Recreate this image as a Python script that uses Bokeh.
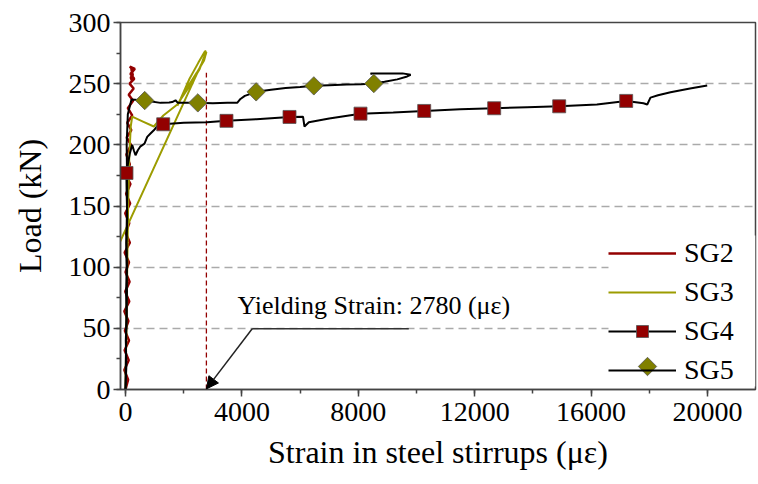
from bokeh.plotting import figure
from bokeh.models import Range1d, Legend, LegendItem, Arrow, NormalHead, FixedTicker, ColumnDataSource
from bokeh.core.properties import value
from bokeh.embed import file_html
from bokeh.resources import INLINE

# ---------------- data ----------------
sg2_x = [0, 90, -40, 110, -30, 120, -20, 100, -40, 130, -10, 140, 0, 120, -30, 150, 10, 130,
         -10, 160, 20, 170, 0, 150, 30, 190, 40, 200, 60, 230, 80, 260, 110, 280, 140, 300,
         170, 320, 150, 290, 200, 250, 180, 230]
sg2_y = [0, 8, 16, 24, 32, 40, 48, 56, 64, 72, 80, 88, 96, 104, 112, 120, 128, 136,
         144, 152, 160, 168, 176, 184, 192, 200, 206, 212, 218, 224, 230, 236, 241, 246, 250,
         254, 258, 262, 264, 260, 262, 257, 255, 252]

sg3_x = [0, 30, 60, 90, 130, 180, 230, 600, 973, 1300, 1780, 2200, 2550, 2700, 2760, 2720,
         2500, 2200, 1900, 1780, 2100, 2450, 2700, 2780, 2760, -200]
sg3_y = [0, 50, 100, 150, 190, 215, 223, 219, 215, 224, 233, 248, 262, 272, 277, 276,
         267, 254, 238, 232, 246, 259, 269, 276, 274, 120]

sg4_x = [0, 30, 10, 40, 20, 50, 30, 60, 40, 30, 148, 230, 285, 344, 423, 515, 653, 746, 859,
         973, 1089, 1296, 2000, 2800, 3470, 4500, 5636, 6100, 6150, 6300, 7000, 8076, 9200,
         10265, 11500, 12670, 13800, 14904, 16200, 17206, 17800, 17930, 18040, 18300, 18730,
         19400, 19990]
sg4_y = [0, 20, 40, 60, 80, 100, 120, 140, 160, 177, 193, 200, 195.6, 191.5, 195.6, 198.8,
         201, 206.5, 209.2, 211.9, 215.2, 216.8, 218, 218.5, 219.6, 221, 222.8, 223, 215,
         218.5, 221.5, 225.5, 226.5, 227.7, 229, 229.9, 230.8, 231.5, 233, 235.9, 234, 233,
         238.6, 240.5, 243, 246, 248.5]
sg4_mx = [34, 1296, 3470, 5636, 8076, 10265, 12670, 14904, 17206]
sg4_my = [177, 216.8, 219.6, 222.8, 225.5, 227.7, 229.9, 231.5, 235.9]

sg5_x = [0, 20, 50, 30, 60, 40, 80, 206, 660, 1203, 1500, 1604, 1718, 1800, 2485, 3000, 3500,
         3838, 3950, 4100, 4490, 5000, 5500, 6000, 6472, 7000, 7600, 8100, 8533, 8900, 9340,
         9680, 9800, 9520, 8420, 8470]
sg5_y = [0, 40, 80, 120, 160, 200, 225, 237, 236.2, 234.3, 234.6, 235, 236.4, 234.3, 234.3,
         234, 234.5, 234.3, 237.5, 240, 243.3, 245, 246.5, 247.3, 248.2, 248.8, 249.3, 249.6,
         250.1, 251.6, 253.5, 255.9, 257.2, 258.4, 258.4, 257.8]
sg5_mx = [660, 2485, 4490, 6472, 8533]
sg5_my = [236.2, 234.3, 243.3, 248.2, 250.1]

yield_strain = 2780
yield_top = 259
note_text = "Yielding Strain: 2780 (με)"
note_x, note_y = 3849, 69
leader_x = [9735, 4354]
leader_y = [49.6, 49.6]

x_ticks = [0, 4000, 8000, 12000, 16000, 20000]
x_minor = list(range(0, 22001, 2000))
y_ticks = [0, 50, 100, 150, 200, 250, 300]
y_minor = list(range(0, 301, 25))
grid_ticks = [50, 100, 150, 200, 250]

FONT = "Liberation Serif"
RED = "#930000"
OLIVE_LINE = "#9c9c00"
OLIVE_MARK = "#808000"

X0, X1, Y0, Y1 = -172, 21650, 0, 300
W, H = 758, 484
BL, BR, BT, BB = 120, 3, 22, 95

p = figure(width=W, height=H, x_range=Range1d(X0, X1), y_range=Range1d(Y0, Y1),
           output_backend="svg", toolbar_location=None,
           min_border_left=BL, min_border_right=BR, min_border_top=BT, min_border_bottom=BB)
p.background_fill_color = "white"
p.border_fill_color = "white"
p.outline_line_color = "#444444"
p.outline_line_width = 1.5

p.xgrid.visible = False
p.ygrid.ticker = FixedTicker(ticks=grid_ticks)
p.ygrid.grid_line_color = "#aaaaaa"
p.ygrid.grid_line_dash = "8 5"
p.ygrid.grid_line_width = 1.5

p.xaxis.ticker = FixedTicker(ticks=x_ticks, minor_ticks=x_minor)
p.yaxis.ticker = FixedTicker(ticks=y_ticks, minor_ticks=y_minor)
for ax in (p.xaxis[0], p.yaxis[0]):
    ax.axis_line_color = "#444444"
    ax.axis_line_width = 1.5
    ax.major_tick_line_color = "#444444"
    ax.minor_tick_line_color = "#444444"
    ax.major_tick_line_width = 1.5
    ax.minor_tick_line_width = 1.5
    ax.major_tick_in = 0
    ax.minor_tick_in = 0
    ax.major_tick_out = 7
    ax.minor_tick_out = 4
    ax.major_label_text_font = FONT
    ax.major_label_text_font_size = "28px"
    ax.major_label_text_color = "black"
    ax.axis_label_text_font = FONT
    ax.axis_label_text_font_size = "32px"
    ax.axis_label_text_font_style = "normal"
    ax.axis_label_text_color = "black"
p.xaxis.major_label_standoff = 6
p.yaxis.major_label_standoff = 3
p.xaxis.axis_label = "Strain in steel stirrups (με)"
p.yaxis.axis_label = "Load (kN)"
p.xaxis.axis_label_standoff = 10
p.yaxis.axis_label_standoff = 18

# legend geometry (screen px relative to frame bottom-left)
LEG_LOC = (488, 3)
LEG_PAD, GLYPH_W, ITEM_H, ITEM_GAP, N_ITEMS = 5, 68, 30, 7, 4
frame_w = W - BL - BR
frame_h = H - BT - BB
def px_to_x(px):
    return X0 + px / frame_w * (X1 - X0)
def py_to_y(py):
    return Y0 + py / frame_h * (Y1 - Y0)
leg_h = 2 * LEG_PAD + N_ITEMS * ITEM_H + (N_ITEMS - 1) * ITEM_GAP

# white backing behind the legend (covers the grid lines there)
p.quad(left=[px_to_x(LEG_LOC[0])], right=[X1], bottom=[py_to_y(LEG_LOC[1])],
       top=[py_to_y(LEG_LOC[1] + leg_h)], fill_color="white", line_color=None)

# yield line
p.segment(x0=[yield_strain], y0=[0], x1=[yield_strain], y1=[yield_top],
          line_color=RED, line_dash="5 3", line_width=1.3)

r2 = p.line(sg2_x, sg2_y, line_color=RED, line_width=2.5)
r3 = p.line(sg3_x, sg3_y, line_color=OLIVE_LINE, line_width=2)
r4 = p.line(sg4_x, sg4_y, line_color="black", line_width=2)
r5 = p.line(sg5_x, sg5_y, line_color="black", line_width=2)
m4 = p.scatter(sg4_mx, sg4_my, marker="square", size=13, fill_color=RED,
               line_color="#555555", line_width=0.8)
DIAMOND_ANGLE = 0.785398
m5 = p.scatter(sg5_mx, sg5_my, marker="square", size=13, angle=DIAMOND_ANGLE,
               fill_color=OLIVE_MARK, line_color="#555555", line_width=0.8)

# annotation
p.line(leader_x, leader_y, line_color="#333333", line_width=1.5)
p.add_layout(Arrow(end=NormalHead(size=12, fill_color="black", line_color="black"),
                   x_start=leader_x[1], y_start=leader_y[1], x_end=yield_strain, y_end=0.5,
                   line_color="#222222", line_width=1.5))
p.text(x=[note_x], y=[note_y], text=[note_text], text_font=value(FONT),
       text_font_size="26px", text_baseline="middle", text_align="left", text_color="black")

# diamond swatch for the SG5 legend entry (legend swatches ignore marker angle)
sw_x = px_to_x(LEG_LOC[0] + LEG_PAD + GLYPH_W / 2)
sw_y = py_to_y(LEG_LOC[1] + LEG_PAD + ITEM_H / 2)
p.scatter([sw_x], [sw_y], marker="square", size=13, angle=DIAMOND_ANGLE,
          fill_color=OLIVE_MARK, line_color="#555555", line_width=0.8)

legend = Legend(items=[LegendItem(label="SG2", renderers=[r2]),
                       LegendItem(label="SG3", renderers=[r3]),
                       LegendItem(label="SG4", renderers=[r4, m4]),
                       LegendItem(label="SG5", renderers=[r5])],
                location=LEG_LOC)
legend.label_text_font = FONT
legend.label_text_font_size = "28px"
legend.label_text_color = "black"
legend.glyph_width = GLYPH_W
legend.glyph_height = ITEM_H
legend.label_height = ITEM_H
legend.spacing = ITEM_GAP
legend.padding = LEG_PAD
legend.margin = 0
legend.label_standoff = 8
legend.border_line_color = None
legend.background_fill_alpha = 0.0
p.add_layout(legend)

open("out.html", "w").write(file_html(p, INLINE))
